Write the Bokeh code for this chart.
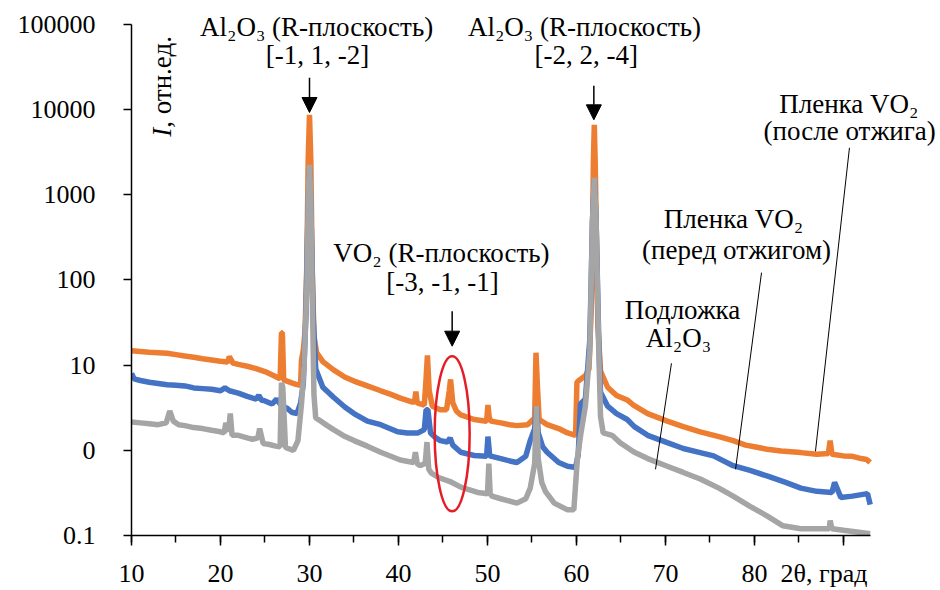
import math
from bokeh.plotting import figure
from bokeh.models import Label, Arrow, NormalHead, SingleIntervalTicker, FixedTicker, Range1d
from bokeh.embed import file_html
from bokeh.resources import INLINE

# ---------------- data (2theta, intensity) ----------------
# film after annealing (orange)
ox = [10, 11, 12, 13, 14, 15, 16, 17, 18, 19, 20, 20.8, 21.0, 21.2, 21.4, 22, 23, 24, 25, 26,
      26.7, 26.85, 26.95, 27.1, 28, 28.6, 29.0, 29.1, 29.3, 29.5, 29.7, 29.85, 30.0, 30.15, 30.3,
      30.5, 30.8, 31.5, 32.7, 34, 35, 36.5, 38, 39, 40.2, 41.5, 41.8, 41.95, 42.1, 42.9, 43.1,
      43.25, 43.45, 43.8, 44.7, 45.4, 45.7, 45.85, 46.1, 46.5, 47.0, 48.5, 49.9, 50.05, 50.2,
      50.4, 51.5, 52.5, 53.3, 54.5, 55.3, 55.45, 55.6, 55.8, 56.7, 58, 59.0, 59.9, 60.05, 60.2,
      61.0, 61.4, 61.7, 61.9, 62.0, 62.1, 62.4, 62.7, 63.5, 64.5, 65.7, 66.4, 68, 70.2, 72, 73.9,
      76, 77.6, 79, 80, 81.4, 83, 85.2, 87, 88.3, 88.5, 88.7, 90, 91, 92, 92.6, 93]
oy = [14.8, 14.5, 14.2, 14.0, 13.8, 13.3, 12.8, 12.4, 11.9, 11.5, 11.1, 10.9, 12.6, 11.5, 10.6,
      10.2, 9.7, 9.1, 8.4, 7.5, 6.9, 24, 24, 6.7, 6.2, 5.9, 5.8, 11.5, 15, 25, 150, 2500, 8700,
      2500, 150, 22, 14, 11, 8.8, 7.2, 6.5, 5.7, 5.0, 4.6, 4.1, 3.7, 3.7, 4.9, 3.6, 3.4, 7, 13, 5,
      3.3, 3.0, 3.0, 5, 6.8, 3.6, 2.9, 2.6, 2.3, 2.2, 3.4, 2.4, 2.2, 2.1, 2.0, 1.95, 2.0, 2.4, 14,
      6, 2.3, 2.0, 1.8, 1.6, 1.5, 6.3, 6.5, 7.5, 9, 60, 2500, 6650, 2500, 30, 8.5, 5.5, 4.4, 3.9,
      3.4, 2.7, 2.2, 1.9, 1.65, 1.45, 1.3, 1.15, 1.1, 1.03, 0.98, 0.94, 0.9, 0.92, 1.3, 0.9, 0.86,
      0.85, 0.8, 0.78, 0.72]

# film before annealing (blue)
bx = [10, 10.3, 11, 12, 13, 14, 15, 16, 17, 18, 19, 20, 20.5, 21, 22, 23, 24, 24.3, 24.6, 25,
      25.8, 26.3, 26.8, 27.5, 28, 28.6, 29.0, 29.3, 29.6, 29.85, 30.0, 30.15, 30.4, 30.7, 31.5,
      32.7, 34, 35, 36.5, 38, 39.9, 41, 42.2, 42.9, 43.1, 43.3, 43.6, 44.2, 44.7, 45.5, 45.8,
      46.1, 47.0, 48.5, 49.9, 50.05, 50.25, 51.5, 52.5, 53.3, 54.3, 54.8, 55.3, 55.5, 55.7, 56.2,
      56.7, 58, 59.0, 59.9, 60.2, 60.45, 61.0, 61.5, 61.8, 62.0, 62.2, 62.5, 62.7, 63.5, 64.5,
      65.7, 66.5, 68, 70.2, 72, 73.9, 75.4, 77.6, 79.5, 81.4, 83.5, 85.2, 87, 88.7, 89.0, 89.7,
      91, 92.7, 93]
by = [8.0, 6.9, 6.6, 6.3, 6.1, 5.9, 5.8, 5.7, 5.4, 5.3, 5.2, 5.0, 5.4, 5.0, 4.7, 4.3, 4.0, 4.4,
      3.9, 3.8, 3.5, 4.0, 3.4, 3.1, 2.8, 2.7, 3.6, 6, 40, 800, 2000, 800, 40, 9, 5.5, 4.2, 3.2,
      2.7, 2.2, 2.0, 1.65, 1.6, 1.6, 1.75, 3.0, 3.0, 1.6, 1.4, 1.3, 1.25, 1.4, 1.15, 0.95, 0.87,
      0.85, 1.45, 0.86, 0.8, 0.75, 0.72, 0.85, 1.3, 1.8, 3.3, 1.6, 1.1, 0.95, 0.72, 0.65, 0.63,
      0.9, 3.5, 4.0, 20, 500, 1500, 500, 20, 4.8, 3.3, 2.7, 2.3, 1.9, 1.5, 1.23, 1.05, 0.94, 0.86,
      0.66, 0.58, 0.50, 0.42, 0.36, 0.33, 0.32, 0.42, 0.28, 0.29, 0.31, 0.23]

# Al2O3 substrate (grey)
gx = [10, 11, 12, 13, 13.9, 14.3, 14.7, 15.3, 16, 17, 18, 19, 20, 20.4, 20.6, 20.9, 21.1, 21.3,
      22, 23, 23.6, 24.2, 24.4, 24.8, 25.5, 26.2, 26.7, 26.85, 27.0, 27.3, 28.2, 28.7, 29.1,
      29.4, 29.7, 29.85, 30.0, 30.15, 30.3, 30.5, 30.7, 31, 32, 32.7, 34, 35, 36.5, 38, 40.2,
      41.7, 41.9, 42.1, 42.4, 43.0, 43.2, 43.4, 43.7, 44.5, 45.8, 47, 48.9, 50.0, 50.15, 50.3,
      50.5, 51.5, 53.3, 54.3, 54.8, 55.3, 55.5, 55.7, 56.1, 56.5, 57.5, 59.0, 59.7, 60.1, 60.5,
      61.0, 61.5, 61.8, 62.0, 62.2, 62.5, 62.7, 63.0, 64, 64.9, 66.5, 68, 70.2, 72, 73.9, 76,
      77.6, 79.5, 81.4, 83.2, 85.2, 87, 88.4, 88.5, 88.7, 90, 91.5, 93]
gy = [2.15, 2.1, 2.05, 2.0, 2.1, 2.9, 2.2, 2.0, 1.95, 1.85, 1.8, 1.72, 1.65, 1.6, 2.1, 1.65,
      2.7, 1.5, 1.5, 1.4, 1.35, 1.4, 1.8, 1.2, 1.17, 1.12, 1.1, 6.2, 5.5, 1.08, 1.0, 1.3, 3.5,
      10, 80, 900, 2250, 900, 80, 4.5, 2.4, 2.3, 1.95, 1.75, 1.45, 1.3, 1.12, 0.95, 0.77, 0.72,
      0.95, 0.70, 0.66, 0.7, 1.25, 0.6, 0.54, 0.48, 0.43, 0.37, 0.32, 0.31, 0.7, 0.31, 0.29,
      0.27, 0.24, 0.27, 0.36, 0.7, 3.3, 0.8, 0.42, 0.33, 0.24, 0.2, 0.2, 0.8, 1.6, 3.3, 15, 500,
      1580, 500, 15, 2.5, 1.6, 1.5, 1.23, 0.95, 0.8, 0.65, 0.55, 0.46, 0.36, 0.29, 0.22, 0.17,
      0.13, 0.12, 0.12, 0.12, 0.15, 0.12, 0.115, 0.11, 0.105]

# axis ticks / labels
x_bounds = (10, 93)
x_major = 10
y_ticks = [0.1, 1, 10, 100, 1000, 10000, 100000]
y_labels = ["0.1", "0", "10", "100", "1000", "10000", "100000"]
x_title = "2θ, град"

FONT = "Liberation Serif"
ORANGE = "#ED7D31"
BLUE = "#4472C4"
GREY = "#A5A5A5"

# frame extends to the top/right canvas edges so that annotations there are not clipped;
# axis lines are limited with bounds
p = figure(width=940, height=590, x_range=Range1d(10, 100.9), y_range=Range1d(0.1, 191000),
           y_axis_type="log", output_backend="svg", toolbar_location=None,
           min_border_left=131, min_border_right=0, min_border_top=0, min_border_bottom=54)
p.outline_line_color = None
p.xgrid.grid_line_color = None
p.ygrid.grid_line_color = None
p.background_fill_color = "white"
p.border_fill_color = "white"

p.line(ox, oy, line_color=ORANGE, line_width=5.5)
p.line(bx, by, line_color=BLUE, line_width=5.5)
p.line(gx, gy, line_color=GREY, line_width=5.5)

# axes
xa = p.xaxis[0]
xa.bounds = x_bounds
xa.ticker = SingleIntervalTicker(interval=x_major, num_minor_ticks=2)
xa.major_label_overrides = {90: x_title + "\u00a0" * 6}
xa.axis_line_width = 1.5
xa.major_tick_line_width = 1.5
xa.minor_tick_line_width = 1.5
xa.major_tick_out = 10
xa.major_tick_in = 0
xa.minor_tick_out = 7
xa.minor_tick_in = 0
xa.major_label_standoff = 13
xa.major_label_text_font = FONT
xa.major_label_text_font_size = "26px"
xa.major_label_text_color = "black"

ya = p.yaxis[0]
ya.bounds = (y_ticks[0], y_ticks[-1])
ya.ticker = FixedTicker(ticks=y_ticks)
ya.major_label_overrides = {t: l for t, l in zip(y_ticks, y_labels)}
ya.axis_line_width = 1.5
ya.major_tick_line_width = 1.5
ya.major_tick_out = 8
ya.major_tick_in = 0
ya.minor_tick_line_color = None
ya.major_label_standoff = 28
ya.major_label_text_font = FONT
ya.major_label_text_font_size = "26px"
ya.major_label_text_color = "black"

def lab(x, y, text, size="27px", align="center", angle=0.0, style="normal"):
    p.add_layout(Label(x=x, y=y, text=text, text_font=FONT, text_font_size=size,
                       text_align=align, text_baseline="middle", angle=angle,
                       text_font_style=style, text_color="black"))

# peak annotations
lab(30.8, 92200, "Al₂O₃ (R-плоскость)")
lab(30.9, 43900, "[-1, 1, -2]")
lab(60.9, 92200, "Al₂O₃ (R-плоскость)")
lab(61.1, 43900, "[-2, 2, -4]")
lab(44.83, 209, "VO₂ (R-плоскость)")
lab(44.94, 95.8, "[-3, -1, -1]")

for (xa_, y0, y1) in [(30.0, 23600, 9250), (61.95, 19000, 7590), (46.03, 43, 16.7)]:
    p.add_layout(Arrow(x_start=xa_, y_start=y0, x_end=xa_, y_end=y1, line_width=1.5,
                       line_color="black",
                       end=NormalHead(size=15, fill_color="black", line_color="black")))

# red ellipse around VO2 peak
p.ellipse(x=[46.03], y=[1.56], width=35, height=155, width_units="screen",
          height_units="screen", fill_alpha=0, line_color="#E41E26", line_width=2.5)

# series labels
lab(90.6, 11700, "Пленка VO₂")
lab(90.7, 5640, "(после отжига)")
lab(77.64, 525, "Пленка VO₂")
lab(77.98, 227, "(перед отжигом)")
lab(71.91, 45, "Подложка")
lab(71.46, 20.6, "Al₂O₃")

p.segment(x0=[90.67, 80.79, 70.67], y0=[3565, 122, 10.5],
          x1=[86.85, 77.87, 68.88], y1=[0.973, 0.599, 0.599],
          line_color="black", line_width=1)

# y-axis title inside the plot, rotated
lab(13.48, 4800, "I", align="left", angle=math.pi / 2, style="italic")
lab(13.48, 6120, ", отн.ед.", align="left", angle=math.pi / 2)

open("out.html", "w").write(file_html(p, INLINE))
